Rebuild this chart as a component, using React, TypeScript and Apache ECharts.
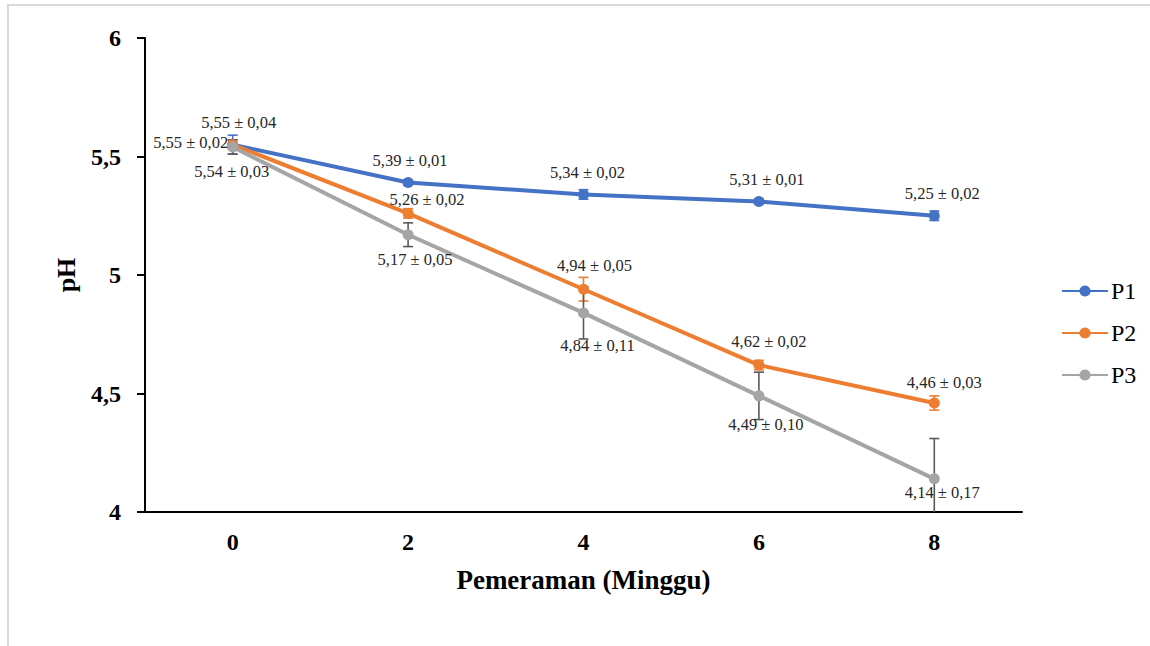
import React, { useEffect, useRef } from "react";
import * as echarts from "echarts";

const weeks = ["0", "2", "4", "6", "8"];
const seriesNames = ["P1", "P2", "P3"];
const p1Values = [5.55, 5.39, 5.34, 5.31, 5.25];
const p1Errors = [0.04, 0.01, 0.02, 0.01, 0.02];
const p2Values = [5.55, 5.26, 4.94, 4.62, 4.46];
const p2Errors = [0.02, 0.02, 0.05, 0.02, 0.03];
const p3Values = [5.54, 5.17, 4.84, 4.49, 4.14];
const p3Errors = [0.03, 0.05, 0.11, 0.1, 0.17];
const yTicks = { min: 4, max: 6, interval: 0.5 };

const FONT = "Liberation Serif, Times New Roman, serif";
const colors = ["#4472C4", "#ED7D31", "#A5A5A5"];
const errColors = ["#4472C4", "#ED7D31", "#595959"];

// label placement styling (not data)
const labelStyles = [
  [
    { position: "top", distance: 8, offset: [6, 0] },
    { position: "top", distance: 8, offset: [2, 0] },
    { position: "top", distance: 8, offset: [4, 0] },
    { position: "top", distance: 8, offset: [8, 0] },
    { position: "top", distance: 8, offset: [8, 0] },
  ],
  [
    { position: "left", distance: -1, offset: [0, -2] },
    { position: "top", distance: 0, offset: [19, 0] },
    { position: "top", distance: 10, offset: [11, 0] },
    { position: "top", distance: 10, offset: [10, 0] },
    { position: "top", distance: 6, offset: [10, 0] },
  ],
  [
    { position: "bottom", distance: 10, offset: [-1, 0] },
    { position: "bottom", distance: 11, offset: [7, 0] },
    { position: "bottom", distance: 19, offset: [14, 0] },
    { position: "bottom", distance: 15, offset: [7, 0] },
    { position: "bottom", distance: 0, offset: [8, 0] },
  ],
];

const fmt = (v: number) => v.toFixed(2).replace(".", ",");

export default function App() {
  const ref = useRef<HTMLDivElement>(null);
  useEffect(() => {
    if (!ref.current) return;
    const chart = echarts.init(ref.current, null, { renderer: "svg" });
    const allValues = [p1Values, p2Values, p3Values];
    const allErrors = [p1Errors, p2Errors, p3Errors];

    const lineSeries = allValues.map((vals, si) => ({
      name: seriesNames[si],
      type: "line",
      z: 3,
      symbol: "circle",
      symbolSize: 11,
      itemStyle: { color: colors[si] },
      lineStyle: { color: colors[si], width: 4 },
      data: vals.map((v, i) => ({
        value: v,
        label: {
          show: true,
          position: labelStyles[si][i].position,
          distance: labelStyles[si][i].distance,
          offset: labelStyles[si][i].offset,
          formatter: `${fmt(v)} ± ${fmt(allErrors[si][i])}`,
          fontFamily: FONT,
          fontSize: 16.5,
          color: "#262626",
        },
      })),
    }));

    const errSeries = allValues.map((vals, si) => ({
      name: seriesNames[si] + "-err",
      type: "custom",
      z: 2,
      clip: true,
      silent: true,
      data: vals.map((v, i) => [i, v - allErrors[si][i], v + allErrors[si][i]]),
      renderItem: (params: any, api: any) => {
        const x = api.value(0);
        const lo = api.coord([x, api.value(1)]);
        const hi = api.coord([x, api.value(2)]);
        const cs = params.coordSys;
        const bottom = cs.y + cs.height;
        const w = 5;
        const style = { stroke: errColors[si], lineWidth: 1.6 };
        const children: any[] = [
          { type: "line", shape: { x1: hi[0], y1: hi[1], x2: lo[0], y2: Math.min(lo[1], bottom) }, style },
          { type: "line", shape: { x1: hi[0] - w, y1: hi[1], x2: hi[0] + w, y2: hi[1] }, style },
        ];
        if (lo[1] <= bottom) {
          children.push({ type: "line", shape: { x1: lo[0] - w, y1: lo[1], x2: lo[0] + w, y2: lo[1] }, style });
        }
        return { type: "group", children };
      },
    }));

    chart.setOption({
      animation: false,
      backgroundColor: "#ffffff",
      graphic: [
        {
          type: "rect",
          shape: { x: 8, y: 5, width: 1200, height: 700 },
          style: { fill: "none", stroke: "#d9d9d9", lineWidth: 2 },
          silent: true,
        },
      ],
      grid: { left: 145, right: 128, top: 38, bottom: 134 },
      legend: {
        data: seriesNames,
        orient: "vertical",
        left: 1056,
        top: 274,
        itemWidth: 46,
        itemHeight: 14,
        itemGap: 18,
        textStyle: { fontFamily: FONT, fontSize: 24, color: "#000", lineHeight: 24, padding: [0, 0, 0, -2] },
      },
      xAxis: {
        type: "category",
        data: weeks,
        boundaryGap: true,
        name: "Pemeraman (Minggu)",
        nameLocation: "middle",
        nameGap: 54,
        nameTextStyle: { fontFamily: FONT, fontSize: 27, fontWeight: "bold", color: "#000" },
        axisLine: { lineStyle: { color: "#000", width: 2 } },
        axisTick: { alignWithLabel: true, length: 6, lineStyle: { color: "#000", width: 2 } },
        axisLabel: { fontFamily: FONT, fontSize: 24, fontWeight: "bold", color: "#000", margin: 18 },
        splitLine: { show: false },
      },
      yAxis: {
        type: "value",
        min: yTicks.min,
        max: yTicks.max,
        interval: yTicks.interval,
        name: "pH",
        nameLocation: "middle",
        nameGap: 66,
        nameTextStyle: { fontFamily: FONT, fontSize: 26, fontWeight: "bold", color: "#000" },
        axisLine: { show: true, lineStyle: { color: "#000", width: 2 } },
        axisTick: { show: true, length: 8, lineStyle: { color: "#000", width: 2 } },
        axisLabel: {
          fontFamily: FONT,
          fontSize: 24,
          fontWeight: "bold",
          color: "#000",
          margin: 24,
          formatter: (v: number) => String(v).replace(".", ","),
        },
        splitLine: { show: false },
      },
      series: [...errSeries, ...lineSeries],
    });
    return () => chart.dispose();
  }, []);
  return (
    <div
      ref={ref}
      style={{ position: "fixed", left: 0, top: 0, width: 1150, height: 646, background: "#fff" }}
    />
  );
}
